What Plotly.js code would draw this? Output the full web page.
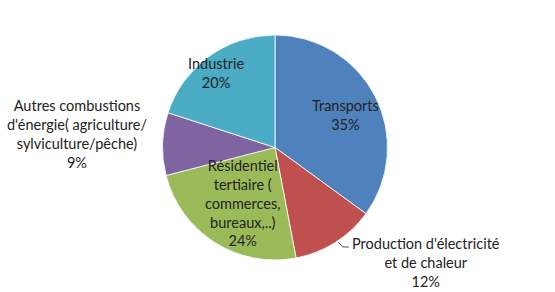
<!DOCTYPE html>
<html><head><meta charset="utf-8">
<script src="https://cdn.plot.ly/plotly-3.0.1.min.js"></script>
<style>html,body{margin:0;padding:0;background:#fff}#c{width:555px;height:292px}</style>
</head><body><div id="c"></div>
<script>
const labels = ["Transports", "Production d'électricité<br>et de chaleur", "Résidentiel<br>tertiaire (<br>commerces,<br>bureaux,..)", "Autres combustions<br>d'énergie( agriculture/<br>sylviculture/pêche)", "Industrie"];
const values = [35, 12, 24, 9, 20];
const colors = ["#4F81BD", "#C0504D", "#9BBB59", "#8064A2", "#4BACC6"];
// label anchor positions (pixels)
const labelX = [345, 426, 243, 77, 216];
const labelY = [115, 262, 203, 134, 73];

const W = 555, H = 292;
const annotations = labels.map((l, i) => ({
  text: l + "<br>" + values[i] + "%",
  x: labelX[i] / W, y: 1 - labelY[i] / H, xref: "paper", yref: "paper",
  showarrow: false, xanchor: "center", yanchor: "middle", align: "center",
  font: {family: "Lato, 'Open Sans', sans-serif", size: 14.5, color: "#222222"}
}));

const data = [{
  type: "pie", values: values, labels: labels, sort: false, direction: "clockwise",
  rotation: 0, textinfo: "none", hoverinfo: "none",
  marker: {colors: colors, line: {color: "#ffffff", width: 0.8}},
  domain: {x: [162 / W, 388 / W], y: [1 - 260 / H, 1 - 35 / H]}
}];

const layout = {
  width: W, height: H, margin: {l: 0, r: 0, t: 0, b: 0},
  showlegend: false, paper_bgcolor: "#fff",
  annotations: annotations,
  shapes: [{type: "path", xref: "paper", yref: "paper",
    path: `M ${338 / W} ${1 - 242 / H} L ${343 / W} ${1 - 247 / H} L ${349 / W} ${1 - 247 / H}`,
    line: {color: "#555", width: 1}}]
};
Plotly.newPlot("c", data, layout, {staticPlot: true});
</script></body></html>
